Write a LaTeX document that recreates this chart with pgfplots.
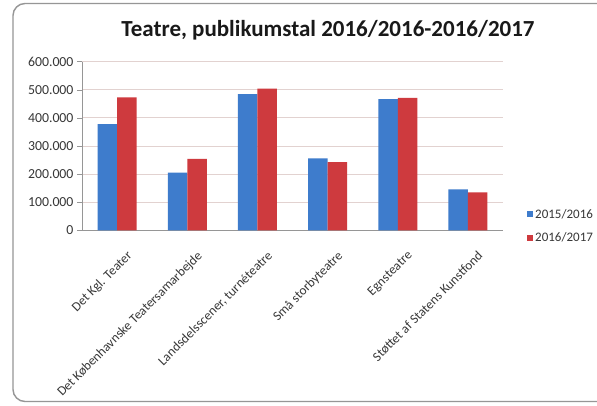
\documentclass[border=0pt]{standalone}
\usepackage{pgfplots}
\pgfplotsset{compat=1.18}
\usepackage{fontspec}
\setmainfont{Carlito}
\definecolor{barblue}{RGB}{62,124,204}
\definecolor{barred}{RGB}{206,58,62}
\definecolor{gridc}{RGB}{226,210,208}
\definecolor{axc}{RGB}{150,150,150}
\definecolor{txt}{RGB}{55,55,55}
\begin{document}
\begin{tikzpicture}[x=1pt,y=1pt]
\useasboundingbox (0,0) rectangle (597,406);
\fill[white] (0,0) rectangle (597,406);
\draw[color=axc, line width=1.4pt, rounded corners=12pt] (13,4.5) rectangle (640,402.5);
\node[font=\fontsize{23}{26}\selectfont\bfseries, text=black!90] at (328,376) {Teatre, publikumstal 2016/2016-2016/2017};
\begin{axis}[
  at={(117.1pt,175.7pt)}, anchor=origin,
  scale only axis, width=421pt, height=168.6pt,
  ymin=0, ymax=600000,
  xmin=-0.5, xmax=5.5,
  ybar=0pt, bar width=19.5pt,
  ytick={0,100000,200000,300000,400000,500000,600000},
  yticklabels={0,100.000,200.000,300.000,400.000,500.000,600.000},
  xtick={0,...,5},
  xticklabels={Det Kgl. Teater, Det Københavnske Teatersamarbejde, {Landsdelsscener, turnéteatre}, Små storbyteatre, Egnsteatre, Støttet af Statens Kunstfond},
  extra x ticks={-0.5,0.5,1.5,2.5,3.5,4.5,5.5},
  extra x tick labels={},
  extra x tick style={major tick length=5pt, tick style={color=axc, line width=0.6pt}, grid=none},
  major x tick style={draw=none},
  ytick style={color=axc, line width=0.6pt},
  major tick length=5pt,
  tick align=outside,
  ymajorgrids, grid style={color=gridc, line width=0.8pt},
  axis x line*=bottom, axis y line*=left,
  axis line style={color=axc, line width=0.8pt},
  y axis line style={-}, x axis line style={-},
  scaled y ticks=false,
  yticklabel style={font=\fontsize{13.8}{15}\selectfont, text=txt},
  xticklabel style={font=\fontsize{13.2}{15}\selectfont, text=txt, xshift=9pt, yshift=-13pt, rotate=45, anchor=north east, inner sep=1pt},
  legend style={at={(1.057,0.025)}, anchor=west, draw=none, fill=none, font=\fontsize{13}{15}\selectfont, text=txt, row sep=9pt, inner sep=0pt},
  legend cell align=left,
  legend image code/.code={\fill[#1] (0pt,-3pt) rectangle (6pt,3pt);},
]
\addplot[fill=barblue, draw=none] coordinates {(0,378000) (1,205000) (2,485000) (3,256000) (4,467000) (5,146000)};
\addplot[fill=barred, draw=none] coordinates {(0,473000) (1,254000) (2,504000) (3,243000) (4,471000) (5,135000)};
\legend{2015/2016, 2016/2017}
\end{axis}
\end{tikzpicture}
\end{document}
